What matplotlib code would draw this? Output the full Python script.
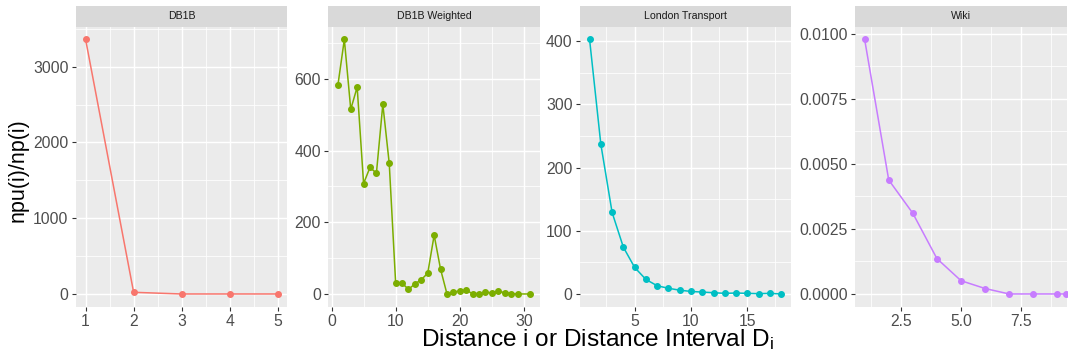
import matplotlib
matplotlib.use("Agg")
import matplotlib.pyplot as plt
from matplotlib.patches import Rectangle
from matplotlib.ticker import MultipleLocator, FormatStrFormatter

plt.rcParams['font.family'] = ['Liberation Sans', 'DejaVu Sans']
plt.rcParams['mathtext.fontset'] = 'custom'
plt.rcParams['mathtext.rm'] = 'Liberation Sans'
plt.rcParams['mathtext.it'] = 'Liberation Sans'

# ---- data -------------------------------------------------------------
panel_titles = ["DB1B", "DB1B Weighted", "London Transport", "Wiki"]
series_colors = ["#F8766D", "#7CAE00", "#00BFC4", "#C77CFF"]

db1b_x = [1, 2, 3, 4, 5]
db1b_y = [3360, 22, 0, 0, 0]

db1b_w_x = list(range(1, 30)) + [31]
db1b_w_y = [583, 710, 515, 577, 308, 353, 337, 529, 364, 30,
            30, 13, 28, 40, 58, 164, 69, 0, 6, 8,
            10, 1, 1, 5, 3, 7, 4, 1, 0, 0]

london_x = list(range(1, 19))
london_y = [403, 237, 129, 74, 42, 23, 13, 9, 6, 4,
            3, 2, 1, 1.5, 1, 0.5, 1, 0]

wiki_x = [1, 2, 3, 4, 5, 6, 7, 8, 9, 9.35]
wiki_y = [0.00978, 0.00438, 0.00310, 0.00136, 0.00051, 0.00021,
          0.0, 0.0, 0.0, 0.0]

# ---- layout (pixels) --------------------------------------------------
W, H = 1068, 356
fig = plt.figure(figsize=(W / 100, H / 100), dpi=100)
fig.patch.set_facecolor("white")

panel_bottom_px, panel_top_px = 306.7, 26.7
strip_h_px = 20.7
panel_lr = [(76, 287.3), (328.3, 540), (580, 790.7), (855, 1067)]

TICK_COLOR = "#333333"
LABEL_COLOR = "#4D4D4D"


def make_panel(idx, x, y, xmaj, ymaj, yfmt, xfmt=None, xlim=None):
    x0, x1 = panel_lr[idx]
    ax = fig.add_axes([x0 / W, (H - panel_bottom_px) / H,
                       (x1 - x0) / W, (panel_bottom_px - panel_top_px) / H])
    ax.set_facecolor("#EBEBEB")
    for s in ax.spines.values():
        s.set_visible(False)
    ax.plot(x, y, color=series_colors[idx], lw=1.1, marker="o", ms=4.0,
            mec=series_colors[idx], mfc=series_colors[idx], zorder=3)
    ax.margins(0.05)
    if xlim is not None:
        ax.set_xlim(*xlim)
    ax.xaxis.set_major_locator(MultipleLocator(xmaj))
    ax.xaxis.set_minor_locator(MultipleLocator(xmaj / 2))
    ax.yaxis.set_major_locator(MultipleLocator(ymaj))
    ax.yaxis.set_minor_locator(MultipleLocator(ymaj / 2))
    ax.yaxis.set_major_formatter(FormatStrFormatter(yfmt))
    if xfmt:
        ax.xaxis.set_major_formatter(FormatStrFormatter(xfmt))
    ax.grid(which="major", color="white", lw=1.05)
    ax.grid(which="minor", color="white", lw=0.55)
    ax.set_axisbelow(True)
    ax.tick_params(which="major", length=3.2, width=0.8, color=TICK_COLOR,
                   labelsize=11.3, labelcolor=LABEL_COLOR, pad=2.2)
    ax.tick_params(which="minor", length=0)
    # facet strip
    frac = strip_h_px / (panel_bottom_px - panel_top_px)
    ax.add_patch(Rectangle((0, 1), 1, frac, transform=ax.transAxes,
                           facecolor="#D9D9D9", edgecolor="none",
                           clip_on=False, zorder=5))
    ax.text(0.5, 1 + frac / 2, panel_titles[idx], transform=ax.transAxes,
            ha="center", va="center", fontsize=7.6, color="#1A1A1A",
            zorder=6)
    return ax


make_panel(0, db1b_x, db1b_y, 1, 1000, "%d")
make_panel(1, db1b_w_x, db1b_w_y, 10, 200, "%d")
make_panel(2, london_x, london_y, 5, 100, "%d")
make_panel(3, wiki_x, wiki_y, 2.5, 0.0025, "%.4f", xfmt="%.1f",
           xlim=(0.6, 9.4))

# axis titles
fig.text(18.5 / W, 1 - 170 / H, "npu(i)/np(i)", rotation=90,
         ha="center", va="center", fontsize=15.5, color="black")
fig.text(598 / W, 1 - 340 / H, r"Distance i or Distance Interval D$_{\mathrm{i}}$",
         ha="center", va="center", fontsize=17.6, color="black")

fig.savefig("out.png", dpi=100)
